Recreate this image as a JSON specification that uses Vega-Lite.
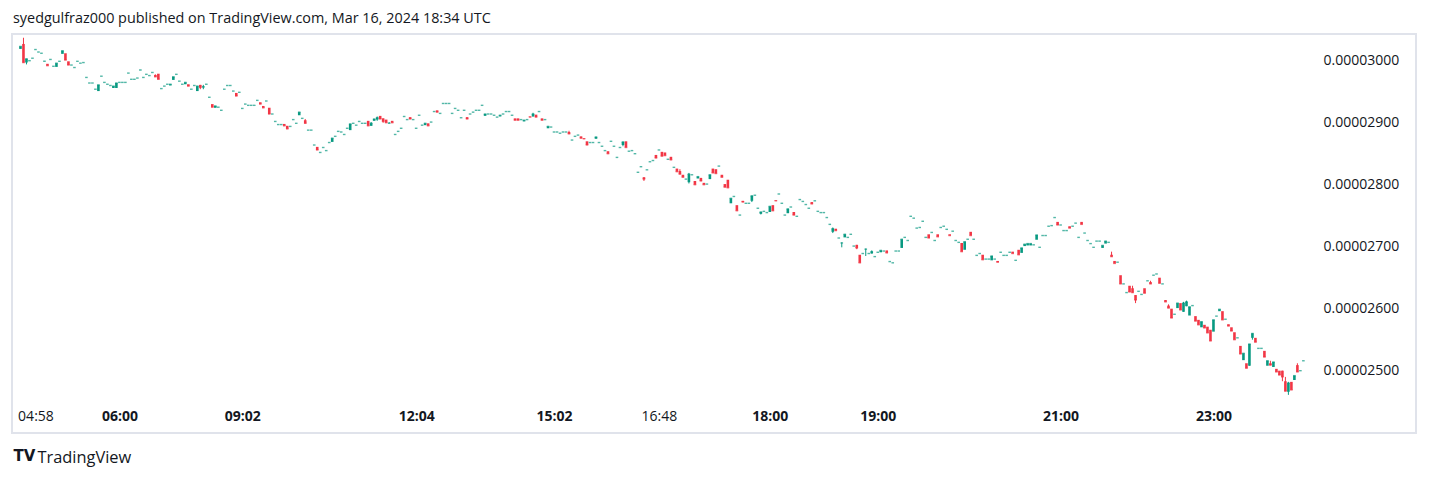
{
  "$schema": "https://vega.github.io/schema/vega-lite/v6.json",
  "width": 1404,
  "height": 399,
  "autosize": {"type": "none"},
  "padding": {"left": 12, "top": 34, "right": 13, "bottom": 45},
  "background": "white",
  "config": {
    "view": {"stroke": "#e0e3eb", "strokeWidth": 2},
    "font": "Open Sans"
  },
  "title": {
    "text": "syedgulfraz000 published on TradingView.com, Mar 16, 2024 18:34 UTC",
    "anchor": "start",
    "frame": "group",
    "fontSize": 14.4,
    "fontWeight": "normal",
    "font": "Open Sans",
    "color": "#131722",
    "offset": 8,
    "dx": 1
  },
  "data": {
    "values": [
      {"i":0,"o":0.00003019,"c":0.00003023},
      {"i":1,"o":0.00003027,"c":0.00002997,"h":0.00003037,"l":0.00002997},
      {"i":2,"o":0.00002997,"c":0.00003003,"h":0.00003003,"l":0.00002994},
      {"i":3,"o":0.00003000,"c":0.00003000},
      {"i":4,"o":0.00003004,"c":0.00003004},
      {"i":5,"o":0.00003018,"c":0.00003018},
      {"i":6,"o":0.00003014,"c":0.00003014},
      {"i":7,"o":0.00003012,"c":0.00003012},
      {"i":8,"o":0.00002999,"c":0.00002999},
      {"i":9,"o":0.00002995,"c":0.00002992},
      {"i":10,"o":0.00003002,"c":0.00003002},
      {"i":11,"o":0.00002991,"c":0.00002991},
      {"i":12,"o":0.00002990,"c":0.00002996},
      {"i":13,"o":0.00002999,"c":0.00002999},
      {"i":14,"o":0.00003011,"c":0.00003016},
      {"i":15,"o":0.00003012,"c":0.00003001},
      {"i":16,"o":0.00002999,"c":0.00002993},
      {"i":17,"o":0.00002993,"c":0.00002993},
      {"i":18,"o":0.00002989,"c":0.00002989},
      {"i":19,"o":0.00002999,"c":0.00002999},
      {"i":20,"o":0.00002996,"c":0.00002996},
      {"i":21,"o":0.00002997,"c":0.00002997},
      {"i":22,"o":0.00002973,"c":0.00002973},
      {"i":23,"o":0.00002964,"c":0.00002964},
      {"i":24,"o":0.00002964,"c":0.00002964},
      {"i":25,"o":0.00002954,"c":0.00002954},
      {"i":26,"o":0.00002951,"c":0.00002961},
      {"i":27,"o":0.00002975,"c":0.00002975},
      {"i":28,"o":0.00002965,"c":0.00002965},
      {"i":29,"o":0.00002962,"c":0.00002962},
      {"i":30,"o":0.00002960,"c":0.00002960},
      {"i":31,"o":0.00002956,"c":0.00002959},
      {"i":32,"o":0.00002956,"c":0.00002964},
      {"i":33,"o":0.00002965,"c":0.00002965},
      {"i":34,"o":0.00002965,"c":0.00002965},
      {"i":35,"o":0.00002965,"c":0.00002965},
      {"i":36,"o":0.00002980,"c":0.00002980},
      {"i":37,"o":0.00002970,"c":0.00002970},
      {"i":38,"o":0.00002970,"c":0.00002970},
      {"i":39,"o":0.00002972,"c":0.00002972},
      {"i":40,"o":0.00002985,"c":0.00002985},
      {"i":41,"o":0.00002973,"c":0.00002973},
      {"i":42,"o":0.00002978,"c":0.00002978},
      {"i":43,"o":0.00002976,"c":0.00002976},
      {"i":44,"o":0.00002981,"c":0.00002981},
      {"i":45,"o":0.00002977,"c":0.00002974,"h":0.00002978,"l":0.00002974},
      {"i":46,"o":0.00002979,"c":0.00002970},
      {"i":47,"o":0.00002955,"c":0.00002955},
      {"i":48,"o":0.00002959,"c":0.00002959},
      {"i":49,"o":0.00002962,"c":0.00002962},
      {"i":50,"o":0.00002960,"c":0.00002962},
      {"i":51,"o":0.00002969,"c":0.00002974},
      {"i":52,"o":0.00002978,"c":0.00002978},
      {"i":53,"o":0.00002967,"c":0.00002967},
      {"i":54,"o":0.00002962,"c":0.00002962},
      {"i":55,"o":0.00002962,"c":0.00002965},
      {"i":56,"o":0.00002962,"c":0.00002959},
      {"i":57,"o":0.00002954,"c":0.00002954},
      {"i":58,"o":0.00002960,"c":0.00002960},
      {"i":59,"o":0.00002951,"c":0.00002959},
      {"i":60,"o":0.00002961,"c":0.00002957,"h":0.00002961,"l":0.00002954},
      {"i":61,"o":0.00002957,"c":0.00002958,"h":0.00002961,"l":0.00002954},
      {"i":62,"o":0.00002962,"c":0.00002962},
      {"i":63,"o":0.00002941,"c":0.00002941},
      {"i":64,"o":0.00002930,"c":0.00002925},
      {"i":65,"o":0.00002924,"c":0.00002927},
      {"i":66,"o":0.00002925,"c":0.00002925},
      {"i":67,"o":0.00002920,"c":0.00002920},
      {"i":68,"o":0.00002954,"c":0.00002954},
      {"i":69,"o":0.00002960,"c":0.00002960},
      {"i":70,"o":0.00002960,"c":0.00002960},
      {"i":71,"o":0.00002951,"c":0.00002951},
      {"i":72,"o":0.00002948,"c":0.00002943},
      {"i":73,"o":0.00002949,"c":0.00002949},
      {"i":74,"o":0.00002923,"c":0.00002923},
      {"i":75,"o":0.00002930,"c":0.00002930},
      {"i":76,"o":0.00002928,"c":0.00002928},
      {"i":77,"o":0.00002928,"c":0.00002928},
      {"i":78,"o":0.00002928,"c":0.00002928},
      {"i":79,"o":0.00002936,"c":0.00002936},
      {"i":80,"o":0.00002933,"c":0.00002930},
      {"i":81,"o":0.00002927,"c":0.00002924},
      {"i":82,"o":0.00002935,"c":0.00002935},
      {"i":83,"o":0.00002924,"c":0.00002914},
      {"i":84,"o":0.00002914,"c":0.00002914},
      {"i":85,"o":0.00002902,"c":0.00002902},
      {"i":86,"o":0.00002897,"c":0.00002897},
      {"i":87,"o":0.00002897,"c":0.00002897},
      {"i":88,"o":0.00002898,"c":0.00002895},
      {"i":89,"o":0.00002895,"c":0.00002890},
      {"i":90,"o":0.00002894,"c":0.00002894},
      {"i":91,"o":0.00002905,"c":0.00002905},
      {"i":92,"o":0.00002899,"c":0.00002899},
      {"i":93,"o":0.00002912,"c":0.00002917},
      {"i":94,"o":0.00002907,"c":0.00002907},
      {"i":95,"o":0.00002904,"c":0.00002899,"h":0.00002906,"l":0.00002899},
      {"i":96,"o":0.00002888,"c":0.00002888},
      {"i":97,"o":0.00002888,"c":0.00002888},
      {"i":98,"o":0.00002864,"c":0.00002864},
      {"i":99,"o":0.00002861,"c":0.00002856},
      {"i":100,"o":0.00002852,"c":0.00002852},
      {"i":101,"o":0.00002860,"c":0.00002860},
      {"i":102,"o":0.00002855,"c":0.00002855},
      {"i":103,"o":0.00002868,"c":0.00002868},
      {"i":104,"o":0.00002869,"c":0.00002875},
      {"i":105,"o":0.00002878,"c":0.00002878},
      {"i":106,"o":0.00002886,"c":0.00002886},
      {"i":107,"o":0.00002885,"c":0.00002885},
      {"i":108,"o":0.00002881,"c":0.00002881},
      {"i":109,"o":0.00002891,"c":0.00002891},
      {"i":110,"o":0.00002888,"c":0.00002898},
      {"i":111,"o":0.00002899,"c":0.00002899},
      {"i":112,"o":0.00002896,"c":0.00002896},
      {"i":113,"o":0.00002902,"c":0.00002902},
      {"i":114,"o":0.00002899,"c":0.00002899},
      {"i":115,"o":0.00002899,"c":0.00002899},
      {"i":116,"o":0.00002903,"c":0.00002895},
      {"i":117,"o":0.00002895,"c":0.00002899,"h":0.00002901,"l":0.00002895},
      {"i":118,"o":0.00002903,"c":0.00002906},
      {"i":119,"o":0.00002905,"c":0.00002908,"h":0.00002910,"l":0.00002903},
      {"i":120,"o":0.00002911,"c":0.00002906},
      {"i":121,"o":0.00002907,"c":0.00002902,"h":0.00002907,"l":0.00002900},
      {"i":122,"o":0.00002905,"c":0.00002900},
      {"i":123,"o":0.00002899,"c":0.00002899,"h":0.00002901,"l":0.00002899},
      {"i":124,"o":0.00002903,"c":0.00002900},
      {"i":125,"o":0.00002881,"c":0.00002881},
      {"i":126,"o":0.00002886,"c":0.00002886},
      {"i":127,"o":0.00002891,"c":0.00002891},
      {"i":128,"o":0.00002910,"c":0.00002910},
      {"i":129,"o":0.00002905,"c":0.00002905},
      {"i":130,"o":0.00002909,"c":0.00002906},
      {"i":131,"o":0.00002905,"c":0.00002905},
      {"i":132,"o":0.00002891,"c":0.00002891},
      {"i":133,"o":0.00002912,"c":0.00002912},
      {"i":134,"o":0.00002896,"c":0.00002896},
      {"i":135,"o":0.00002896,"c":0.00002899},
      {"i":136,"o":0.00002899,"c":0.00002895},
      {"i":137,"o":0.00002901,"c":0.00002901},
      {"i":138,"o":0.00002918,"c":0.00002918},
      {"i":139,"o":0.00002920,"c":0.00002917},
      {"i":140,"o":0.00002915,"c":0.00002915},
      {"i":141,"o":0.00002931,"c":0.00002931},
      {"i":142,"o":0.00002931,"c":0.00002931},
      {"i":143,"o":0.00002931,"c":0.00002931},
      {"i":144,"o":0.00002915,"c":0.00002915},
      {"i":145,"o":0.00002923,"c":0.00002923},
      {"i":146,"o":0.00002920,"c":0.00002920},
      {"i":147,"o":0.00002908,"c":0.00002908},
      {"i":148,"o":0.00002920,"c":0.00002920},
      {"i":149,"o":0.00002909,"c":0.00002906},
      {"i":150,"o":0.00002914,"c":0.00002914},
      {"i":151,"o":0.00002917,"c":0.00002917},
      {"i":152,"o":0.00002920,"c":0.00002920},
      {"i":153,"o":0.00002920,"c":0.00002920},
      {"i":154,"o":0.00002928,"c":0.00002928},
      {"i":155,"o":0.00002911,"c":0.00002914},
      {"i":156,"o":0.00002914,"c":0.00002914},
      {"i":157,"o":0.00002914,"c":0.00002914},
      {"i":158,"o":0.00002912,"c":0.00002912},
      {"i":159,"o":0.00002909,"c":0.00002909},
      {"i":160,"o":0.00002910,"c":0.00002912},
      {"i":161,"o":0.00002914,"c":0.00002914},
      {"i":162,"o":0.00002918,"c":0.00002918},
      {"i":163,"o":0.00002918,"c":0.00002918},
      {"i":164,"o":0.00002912,"c":0.00002912},
      {"i":165,"o":0.00002907,"c":0.00002904},
      {"i":166,"o":0.00002907,"c":0.00002904},
      {"i":167,"o":0.00002905,"c":0.00002905},
      {"i":168,"o":0.00002902,"c":0.00002904},
      {"i":169,"o":0.00002905,"c":0.00002905},
      {"i":170,"o":0.00002910,"c":0.00002909},
      {"i":171,"o":0.00002910,"c":0.00002914,"h":0.00002916,"l":0.00002910},
      {"i":172,"o":0.00002913,"c":0.00002909},
      {"i":173,"o":0.00002918,"c":0.00002918},
      {"i":174,"o":0.00002907,"c":0.00002904},
      {"i":175,"o":0.00002905,"c":0.00002905},
      {"i":176,"o":0.00002891,"c":0.00002894},
      {"i":177,"o":0.00002893,"c":0.00002893},
      {"i":178,"o":0.00002885,"c":0.00002885},
      {"i":179,"o":0.00002885,"c":0.00002885},
      {"i":180,"o":0.00002883,"c":0.00002883},
      {"i":181,"o":0.00002885,"c":0.00002885},
      {"i":182,"o":0.00002885,"c":0.00002885},
      {"i":183,"o":0.00002885,"c":0.00002882,"h":0.00002887,"l":0.00002882},
      {"i":184,"o":0.00002872,"c":0.00002872},
      {"i":185,"o":0.00002878,"c":0.00002878},
      {"i":186,"o":0.00002880,"c":0.00002880},
      {"i":187,"o":0.00002878,"c":0.00002875},
      {"i":188,"o":0.00002875,"c":0.00002874},
      {"i":189,"o":0.00002870,"c":0.00002864},
      {"i":190,"o":0.00002868,"c":0.00002868},
      {"i":191,"o":0.00002868,"c":0.00002868},
      {"i":192,"o":0.00002874,"c":0.00002877},
      {"i":193,"o":0.00002868,"c":0.00002868},
      {"i":194,"o":0.00002862,"c":0.00002862},
      {"i":195,"o":0.00002855,"c":0.00002855},
      {"i":196,"o":0.00002854,"c":0.00002850},
      {"i":197,"o":0.00002870,"c":0.00002870},
      {"i":198,"o":0.00002862,"c":0.00002862},
      {"i":199,"o":0.00002844,"c":0.00002844},
      {"i":200,"o":0.00002860,"c":0.00002860},
      {"i":201,"o":0.00002864,"c":0.00002869,"h":0.00002869,"l":0.00002862},
      {"i":202,"o":0.00002870,"c":0.00002860},
      {"i":203,"o":0.00002854,"c":0.00002854},
      {"i":204,"o":0.00002855,"c":0.00002855},
      {"i":205,"o":0.00002850,"c":0.00002850},
      {"i":206,"o":0.00002820,"c":0.00002820},
      {"i":207,"o":0.00002829,"c":0.00002829},
      {"i":208,"o":0.00002812,"c":0.00002809,"h":0.00002812,"l":0.00002806},
      {"i":209,"o":0.00002824,"c":0.00002824},
      {"i":210,"o":0.00002837,"c":0.00002837},
      {"i":211,"o":0.00002839,"c":0.00002839},
      {"i":212,"o":0.00002848,"c":0.00002843},
      {"i":213,"o":0.00002856,"c":0.00002856},
      {"i":214,"o":0.00002853,"c":0.00002846},
      {"i":215,"o":0.00002852,"c":0.00002847},
      {"i":216,"o":0.00002841,"c":0.00002841},
      {"i":217,"o":0.00002845,"c":0.00002840},
      {"i":218,"o":0.00002828,"c":0.00002828},
      {"i":219,"o":0.00002826,"c":0.00002821},
      {"i":220,"o":0.00002822,"c":0.00002817,"h":0.00002825,"l":0.00002817},
      {"i":221,"o":0.00002816,"c":0.00002812},
      {"i":222,"o":0.00002809,"c":0.00002809},
      {"i":223,"o":0.00002804,"c":0.00002817,"h":0.00002819,"l":0.00002802},
      {"i":224,"o":0.00002816,"c":0.00002816},
      {"i":225,"o":0.00002806,"c":0.00002800},
      {"i":226,"o":0.00002810,"c":0.00002813},
      {"i":227,"o":0.00002811,"c":0.00002806},
      {"i":228,"o":0.00002803,"c":0.00002800},
      {"i":229,"o":0.00002801,"c":0.00002801},
      {"i":230,"o":0.00002809,"c":0.00002816},
      {"i":231,"o":0.00002826,"c":0.00002819},
      {"i":232,"o":0.00002825,"c":0.00002818},
      {"i":233,"o":0.00002830,"c":0.00002830},
      {"i":234,"o":0.00002816,"c":0.00002812},
      {"i":235,"o":0.00002801,"c":0.00002796},
      {"i":236,"o":0.00002808,"c":0.00002795},
      {"i":237,"o":0.00002770,"c":0.00002778},
      {"i":238,"o":0.00002781,"c":0.00002781},
      {"i":239,"o":0.00002767,"c":0.00002758},
      {"i":240,"o":0.00002751,"c":0.00002751},
      {"i":241,"o":0.00002774,"c":0.00002772},
      {"i":242,"o":0.00002770,"c":0.00002770},
      {"i":243,"o":0.00002770,"c":0.00002770},
      {"i":244,"o":0.00002774,"c":0.00002782,"h":0.00002782,"l":0.00002772},
      {"i":245,"o":0.00002783,"c":0.00002783},
      {"i":246,"o":0.00002762,"c":0.00002762},
      {"i":247,"o":0.00002753,"c":0.00002756,"h":0.00002756,"l":0.00002752},
      {"i":248,"o":0.00002757,"c":0.00002757},
      {"i":249,"o":0.00002755,"c":0.00002755},
      {"i":250,"o":0.00002756,"c":0.00002765},
      {"i":251,"o":0.00002767,"c":0.00002758},
      {"i":252,"o":0.00002775,"c":0.00002774},
      {"i":253,"o":0.00002785,"c":0.00002785},
      {"i":254,"o":0.00002770,"c":0.00002770},
      {"i":255,"o":0.00002751,"c":0.00002751},
      {"i":256,"o":0.00002754,"c":0.00002761},
      {"i":257,"o":0.00002764,"c":0.00002764},
      {"i":258,"o":0.00002756,"c":0.00002751},
      {"i":259,"o":0.00002749,"c":0.00002749},
      {"i":260,"o":0.00002776,"c":0.00002776},
      {"i":261,"o":0.00002773,"c":0.00002773},
      {"i":262,"o":0.00002768,"c":0.00002768},
      {"i":263,"o":0.00002762,"c":0.00002762},
      {"i":264,"o":0.00002772,"c":0.00002769},
      {"i":265,"o":0.00002774,"c":0.00002774},
      {"i":266,"o":0.00002757,"c":0.00002757},
      {"i":267,"o":0.00002755,"c":0.00002755},
      {"i":268,"o":0.00002755,"c":0.00002755},
      {"i":269,"o":0.00002747,"c":0.00002747},
      {"i":270,"o":0.00002736,"c":0.00002736},
      {"i":271,"o":0.00002724,"c":0.00002729,"h":0.00002731,"l":0.00002722},
      {"i":272,"o":0.00002729,"c":0.00002726},
      {"i":273,"o":0.00002714,"c":0.00002714},
      {"i":274,"o":0.00002706,"c":0.00002706,"h":0.00002707,"l":0.00002699},
      {"i":275,"o":0.00002715,"c":0.00002720},
      {"i":276,"o":0.00002715,"c":0.00002715},
      {"i":277,"o":0.00002720,"c":0.00002720},
      {"i":278,"o":0.00002701,"c":0.00002701},
      {"i":279,"o":0.00002703,"c":0.00002698,"h":0.00002703,"l":0.00002696},
      {"i":280,"o":0.00002687,"c":0.00002674},
      {"i":281,"o":0.00002689,"c":0.00002689},
      {"i":282,"o":0.00002696,"c":0.00002696,"h":0.00002697,"l":0.00002685},
      {"i":283,"o":0.00002689,"c":0.00002689},
      {"i":284,"o":0.00002689,"c":0.00002692,"h":0.00002694,"l":0.00002689},
      {"i":285,"o":0.00002684,"c":0.00002684},
      {"i":286,"o":0.00002691,"c":0.00002691},
      {"i":287,"o":0.00002691,"c":0.00002694},
      {"i":288,"o":0.00002693,"c":0.00002693},
      {"i":289,"o":0.00002694,"c":0.00002690},
      {"i":290,"o":0.00002676,"c":0.00002676},
      {"i":291,"o":0.00002674,"c":0.00002674},
      {"i":292,"o":0.00002693,"c":0.00002693},
      {"i":293,"o":0.00002693,"c":0.00002693},
      {"i":294,"o":0.00002698,"c":0.00002712},
      {"i":295,"o":0.00002715,"c":0.00002715},
      {"i":296,"o":0.00002710,"c":0.00002710},
      {"i":297,"o":0.00002749,"c":0.00002749},
      {"i":298,"o":0.00002746,"c":0.00002746},
      {"i":299,"o":0.00002730,"c":0.00002730},
      {"i":300,"o":0.00002731,"c":0.00002731},
      {"i":301,"o":0.00002741,"c":0.00002741},
      {"i":302,"o":0.00002715,"c":0.00002715},
      {"i":303,"o":0.00002720,"c":0.00002714},
      {"i":304,"o":0.00002723,"c":0.00002723},
      {"i":305,"o":0.00002710,"c":0.00002710},
      {"i":306,"o":0.00002720,"c":0.00002716},
      {"i":307,"o":0.00002731,"c":0.00002731},
      {"i":308,"o":0.00002733,"c":0.00002733},
      {"i":309,"o":0.00002728,"c":0.00002728},
      {"i":310,"o":0.00002720,"c":0.00002718},
      {"i":311,"o":0.00002725,"c":0.00002725},
      {"i":312,"o":0.00002710,"c":0.00002710},
      {"i":313,"o":0.00002707,"c":0.00002707},
      {"i":314,"o":0.00002706,"c":0.00002692},
      {"i":315,"o":0.00002695,"c":0.00002708},
      {"i":316,"o":0.00002712,"c":0.00002712},
      {"i":317,"o":0.00002724,"c":0.00002718},
      {"i":318,"o":0.00002712,"c":0.00002712},
      {"i":319,"o":0.00002686,"c":0.00002686},
      {"i":320,"o":0.00002689,"c":0.00002689},
      {"i":321,"o":0.00002687,"c":0.00002679},
      {"i":322,"o":0.00002680,"c":0.00002680},
      {"i":323,"o":0.00002680,"c":0.00002680},
      {"i":324,"o":0.00002678,"c":0.00002685},
      {"i":325,"o":0.00002680,"c":0.00002680},
      {"i":326,"o":0.00002677,"c":0.00002675},
      {"i":327,"o":0.00002691,"c":0.00002691},
      {"i":328,"o":0.00002686,"c":0.00002686},
      {"i":329,"o":0.00002686,"c":0.00002686},
      {"i":330,"o":0.00002691,"c":0.00002691},
      {"i":331,"o":0.00002692,"c":0.00002689},
      {"i":332,"o":0.00002678,"c":0.00002678},
      {"i":333,"o":0.00002695,"c":0.00002687},
      {"i":334,"o":0.00002690,"c":0.00002698},
      {"i":335,"o":0.00002701,"c":0.00002704},
      {"i":336,"o":0.00002702,"c":0.00002705},
      {"i":337,"o":0.00002702,"c":0.00002705},
      {"i":338,"o":0.00002703,"c":0.00002703},
      {"i":339,"o":0.00002711,"c":0.00002719},
      {"i":340,"o":0.00002699,"c":0.00002699},
      {"i":341,"o":0.00002718,"c":0.00002718},
      {"i":342,"o":0.00002718,"c":0.00002718},
      {"i":343,"o":0.00002733,"c":0.00002733},
      {"i":344,"o":0.00002734,"c":0.00002734},
      {"i":345,"o":0.00002747,"c":0.00002747},
      {"i":346,"o":0.00002740,"c":0.00002735},
      {"i":347,"o":0.00002735,"c":0.00002735},
      {"i":348,"o":0.00002726,"c":0.00002726},
      {"i":349,"o":0.00002726,"c":0.00002726},
      {"i":350,"o":0.00002733,"c":0.00002730},
      {"i":351,"o":0.00002733,"c":0.00002733},
      {"i":352,"o":0.00002738,"c":0.00002738},
      {"i":353,"o":0.00002715,"c":0.00002715},
      {"i":354,"o":0.00002740,"c":0.00002736},
      {"i":355,"o":0.00002722,"c":0.00002722},
      {"i":356,"o":0.00002710,"c":0.00002710},
      {"i":357,"o":0.00002705,"c":0.00002705},
      {"i":358,"o":0.00002699,"c":0.00002699},
      {"i":359,"o":0.00002709,"c":0.00002709},
      {"i":360,"o":0.00002709,"c":0.00002709},
      {"i":361,"o":0.00002698,"c":0.00002702},
      {"i":362,"o":0.00002705,"c":0.00002709},
      {"i":363,"o":0.00002707,"c":0.00002707},
      {"i":364,"o":0.00002687,"c":0.00002684,"h":0.00002692,"l":0.00002684},
      {"i":365,"o":0.00002677,"c":0.00002673},
      {"i":366,"o":0.00002675,"c":0.00002675},
      {"i":367,"o":0.00002654,"c":0.00002640},
      {"i":368,"o":0.00002640,"c":0.00002640},
      {"i":369,"o":0.00002626,"c":0.00002626},
      {"i":370,"o":0.00002637,"c":0.00002627},
      {"i":371,"o":0.00002633,"c":0.00002626,"h":0.00002637,"l":0.00002626},
      {"i":372,"o":0.00002622,"c":0.00002614,"h":0.00002622,"l":0.00002609},
      {"i":373,"o":0.00002628,"c":0.00002628},
      {"i":374,"o":0.00002623,"c":0.00002623},
      {"i":375,"o":0.00002633,"c":0.00002625},
      {"i":376,"o":0.00002645,"c":0.00002645},
      {"i":377,"o":0.00002643,"c":0.00002640,"h":0.00002645,"l":0.00002640},
      {"i":378,"o":0.00002654,"c":0.00002654},
      {"i":379,"o":0.00002656,"c":0.00002656},
      {"i":380,"o":0.00002650,"c":0.00002641},
      {"i":381,"o":0.00002640,"c":0.00002640},
      {"i":382,"o":0.00002614,"c":0.00002611},
      {"i":383,"o":0.00002605,"c":0.00002601,"h":0.00002607,"l":0.00002601},
      {"i":384,"o":0.00002600,"c":0.00002585},
      {"i":385,"o":0.00002591,"c":0.00002591},
      {"i":386,"o":0.00002601,"c":0.00002609},
      {"i":387,"o":0.00002609,"c":0.00002598},
      {"i":388,"o":0.00002595,"c":0.00002609,"h":0.00002611,"l":0.00002595},
      {"i":389,"o":0.00002604,"c":0.00002611,"h":0.00002613,"l":0.00002604},
      {"i":390,"o":0.00002589,"c":0.00002603},
      {"i":391,"o":0.00002605,"c":0.00002605},
      {"i":392,"o":0.00002588,"c":0.00002580},
      {"i":393,"o":0.00002582,"c":0.00002574},
      {"i":394,"o":0.00002570,"c":0.00002579},
      {"i":395,"o":0.00002574,"c":0.00002569},
      {"i":396,"o":0.00002571,"c":0.00002561},
      {"i":397,"o":0.00002566,"c":0.00002548},
      {"i":398,"o":0.00002563,"c":0.00002582},
      {"i":399,"o":0.00002588,"c":0.00002588},
      {"i":400,"o":0.00002596,"c":0.00002599},
      {"i":401,"o":0.00002596,"c":0.00002582},
      {"i":402,"o":0.00002583,"c":0.00002583},
      {"i":403,"o":0.00002575,"c":0.00002572},
      {"i":404,"o":0.00002570,"c":0.00002564},
      {"i":405,"o":0.00002562,"c":0.00002550},
      {"i":406,"o":0.00002553,"c":0.00002553},
      {"i":407,"o":0.00002540,"c":0.00002527},
      {"i":408,"o":0.00002517,"c":0.00002528},
      {"i":409,"o":0.00002512,"c":0.00002504},
      {"i":410,"o":0.00002508,"c":0.00002543,"h":0.00002543,"l":0.00002508},
      {"i":411,"o":0.00002553,"c":0.00002560,"h":0.00002560,"l":0.00002550},
      {"i":412,"o":0.00002553,"c":0.00002546},
      {"i":413,"o":0.00002536,"c":0.00002536},
      {"i":414,"o":0.00002536,"c":0.00002536},
      {"i":415,"o":0.00002532,"c":0.00002522},
      {"i":416,"o":0.00002508,"c":0.00002516},
      {"i":417,"o":0.00002512,"c":0.00002509,"h":0.00002516,"l":0.00002509},
      {"i":418,"o":0.00002506,"c":0.00002514},
      {"i":419,"o":0.00002503,"c":0.00002498},
      {"i":420,"o":0.00002500,"c":0.00002493},
      {"i":421,"o":0.00002500,"c":0.00002490,"h":0.00002500,"l":0.00002483},
      {"i":422,"o":0.00002483,"c":0.00002467,"h":0.00002490,"l":0.00002467},
      {"i":423,"o":0.00002466,"c":0.00002480,"h":0.00002482,"l":0.00002461},
      {"i":424,"o":0.00002482,"c":0.00002469},
      {"i":425,"o":0.00002485,"c":0.00002492},
      {"i":426,"o":0.00002509,"c":0.00002498,"h":0.00002512,"l":0.00002498},
      {"i":427,"o":0.00002500,"c":0.00002500},
      {"i":428,"o":0.00002516,"c":0.00002516}
    ]
  },
  "encoding": {
    "x": {
      "field": "i",
      "type": "quantitative",
      "scale": {"domain": [-1.159, 463.9], "nice": false, "zero": false},
      "axis": {
        "values": [5, 33, 74, 132, 178, 213, 250, 286, 347, 398],
        "labelExpr": "datum.value==5?'04:58':datum.value==33?'06:00':datum.value==74?'09:02':datum.value==132?'12:04':datum.value==178?'15:02':datum.value==213?'16:48':datum.value==250?'18:00':datum.value==286?'19:00':datum.value==347?'21:00':'23:00'",
        "labelFontWeight": {"condition": {"test": "datum.value==5||datum.value==213", "value": "normal"}, "value": "bold"},
        "labelFont": "Open Sans",
        "labelFontSize": 14,
        "labelColor": "#131722",
        "labelPadding": 0,
        "labelOverlap": false,
        "labelFlush": false,
        "offset": -24,
        "domain": false,
        "ticks": false,
        "tickSize": 0,
        "grid": false,
        "title": "TradingView",
        "titleX": 25,
        "titleY": 48,
        "titleAlign": "left",
        "titleAnchor": "start",
        "titleBaseline": "middle",
        "titleFont": "Open Sans",
        "titleFontSize": 16.4,
        "titleFontWeight": "normal",
        "titleColor": "#131722"
      }
    },
    "color": {"condition": {"test": "datum.c < datum.o", "value": "#f23645"}, "value": "#089981"}
  },
  "layer": [
    {
      "transform": [{"filter": "isValid(datum.h)"}],
      "mark": {"type": "rule", "strokeWidth": 1},
      "encoding": {
        "y": {"field": "l", "type": "quantitative", "scale": {"domain": [0.000023995, 0.0000304306], "nice": false, "zero": false}, "axis": null},
        "y2": {"field": "h"}
      }
    },
    {
      "mark": {"type": "bar", "size": 2.6},
      "encoding": {
        "y": {
          "field": "o",
          "type": "quantitative",
          "axis": {
            "orient": "right",
            "offset": -93,
            "values": [0.000025, 0.000026, 0.000027, 0.000028, 0.000029, 0.00003],
            "format": ".8f",
            "labelFont": "Open Sans",
            "labelFontSize": 14,
            "labelColor": "#131722",
            "labelPadding": 0,
            "tickSize": 0,
            "ticks": false,
            "domain": false,
            "grid": false,
            "title": null
          }
        },
        "y2": {"field": "c"}
      }
    },
    {
      "mark": {"type": "tick", "orient": "horizontal", "size": 2.6, "thickness": 1.4},
      "encoding": {
        "y": {
          "field": "c",
          "type": "quantitative",
          "axis": {
            "orient": "left",
            "labels": false,
            "ticks": false,
            "domain": false,
            "grid": false,
            "title": "TV",
            "titleAngle": 0,
            "titleX": 1,
            "titleY": 421,
            "titleAlign": "left",
            "titleBaseline": "middle",
            "titleFont": "DejaVu Sans",
            "titleFontSize": 15,
            "titleFontWeight": 900,
            "titleColor": "#131722"
          }
        }
      }
    }
  ],
  "resolve": {"axis": {"y": "independent"}}
}
